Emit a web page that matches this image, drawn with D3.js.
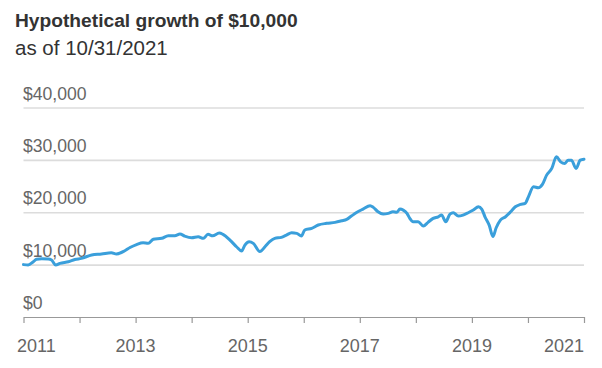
<!DOCTYPE html>
<html>
<head>
<meta charset="utf-8">
<script src="https://cdn.jsdelivr.net/npm/d3@7"></script>
<style>
  html, body { margin: 0; padding: 0; background: #fff; }
  svg { display: block; font-family: "Liberation Sans", Arial, sans-serif; }
</style>
</head>
<body>
<svg id="chart" width="602" height="368"></svg>
<script>
// Months elapsed since 10/31/2011
const months = [0, 1.0, 2.1, 2.8, 3.9, 5.3, 6.0, 6.9, 7.8, 9.6, 11.0, 12.4, 14.6, 16.7, 18.8, 19.9, 21.7, 22.8, 24.2, 25.6,
  26.7, 27.8, 29.6, 31.0, 32.4, 33.5, 34.5, 36.0, 37.4, 38.5, 39.5, 40.5, 41.9, 42.7, 44.2, 45.6, 46.7, 47.4, 48.3, 49.2,
  50.6, 51.7, 52.7, 53.8, 55.2, 56.3, 57.4, 58.5, 59.5, 60.2, 61.7, 63.1, 64.9, 66.7, 68.1, 69.2, 70.2, 71.3, 72.7, 74.2,
  74.9, 75.9, 77.0, 78.1, 79.1, 79.9, 80.6, 81.3, 82.1, 82.7, 83.4, 84.5, 85.6, 86.6, 87.7, 88.8, 89.5, 90.4, 91.3, 92.0,
  93.1, 94.1, 95.2, 96.3, 97.4, 98.1, 98.8, 99.7, 100.5, 101.2, 102.1, 103.2, 104.3, 105.3, 106.4, 107.4, 108.1, 109.2, 110.2, 111.1,
  112.0, 113.1, 114.1, 115.0, 115.9, 116.6, 117.3, 118.3, 119.2, 120];
// Hypothetical value of $10,000
const values = [10000, 9950, 10550, 11010, 11100, 11070, 10880, 9920, 10250, 10550, 10970, 11200, 11830, 12020, 12270, 12020, 12650, 13260, 13830, 14180,
  14060, 14830, 15020, 15510, 15510, 15840, 15450, 15130, 15320, 15020, 15780, 15510, 16030, 15780, 14690, 13410, 12590, 13740, 14370, 14060,
  12500, 13410, 14370, 15020, 15210, 15650, 16090, 15970, 15450, 16600, 16920, 17560, 17880, 18070, 18370, 18640, 19270, 19940, 20600, 21240,
  20930, 20090, 19650, 19790, 20090, 19980, 20600, 20410, 19790, 18830, 18180, 18180, 17360, 18070, 18830, 19140, 19460, 18180, 19650, 19900,
  19270, 19460, 19900, 20420, 21050, 20610, 19140, 17550, 15360, 17040, 18510, 19140, 20090, 21050, 21500, 21690, 22950, 24860, 24670, 25320,
  27090, 28370, 30580, 29630, 29320, 29950, 29950, 28370, 29950, 30140];

const yTickValues = [0, 10000, 20000, 30000, 40000];
const yTickLabels = ["$0", "$10,000", "$20,000", "$30,000", "$40,000"];
const xTickMonths = [0, 12, 24, 36, 48, 60, 72, 84, 96, 108, 120];
const xLabelMonths = [0, 24, 48, 72, 96, 120];
const xLabels = ["2011", "2013", "2015", "2017", "2019", "2021"];

const title = "Hypothetical growth of $10,000";
const subtitle = "as of 10/31/2021";

const svg = d3.select("#chart");
const left = 23.5, right = 584;
const x = d3.scaleLinear().domain([0, 120]).range([left, right]);
const y = d3.scaleLinear().domain([0, 40000]).range([317, 107.5]);

svg.append("text").attr("x", 15).attr("y", 27)
  .attr("font-size", 19.2).attr("font-weight", "bold").attr("fill", "#333").text(title);
svg.append("text").attr("x", 15).attr("y", 55)
  .attr("font-size", 20.5).attr("fill", "#333").text(subtitle);

// gridlines
const grid = svg.append("g").attr("transform", `translate(${left},0)`)
  .call(d3.axisLeft(y).tickValues(yTickValues.slice(1)).tickSize(-(right - left)).tickFormat(""));
grid.select(".domain").remove();
grid.selectAll(".tick line").attr("stroke", "#dcdcdc").attr("stroke-width", 1.6);

// y labels
svg.append("g").selectAll("text").data(yTickValues).join("text")
  .attr("x", 23).attr("y", d => y(d) - 8)
  .attr("font-size", 17.6).attr("fill", "#666")
  .text((d, i) => yTickLabels[i]);

// x axis
const xa = svg.append("g").attr("transform", `translate(0,${y(0)})`)
  .call(d3.axisBottom(x).tickValues(xTickMonths).tickSize(6).tickSizeOuter(0).tickFormat(""));
xa.select(".domain").attr("stroke", "#999").attr("stroke-width", 1.2);
xa.selectAll(".tick line").attr("stroke", "#999").attr("stroke-width", 1.2);

svg.append("g").selectAll("text").data(xLabelMonths).join("text")
  .attr("x", (d, i) => i === 0 ? x(d) - 6.5 : x(d))
  .attr("y", 352)
  .attr("text-anchor", (d, i) => i === 0 ? "start" : (i === xLabelMonths.length - 1 ? "end" : "middle"))
  .attr("font-size", 18).attr("fill", "#666")
  .text((d, i) => xLabels[i]);

// line
const line = d3.line().x((d, i) => x(months[i])).y(d => y(d)).curve(d3.curveMonotoneX);
svg.append("path").datum(values)
  .attr("d", line).attr("fill", "none")
  .attr("stroke", "#3a9fdb").attr("stroke-width", 3)
  .attr("stroke-linejoin", "round").attr("stroke-linecap", "round");
</script>
</body>
</html>
